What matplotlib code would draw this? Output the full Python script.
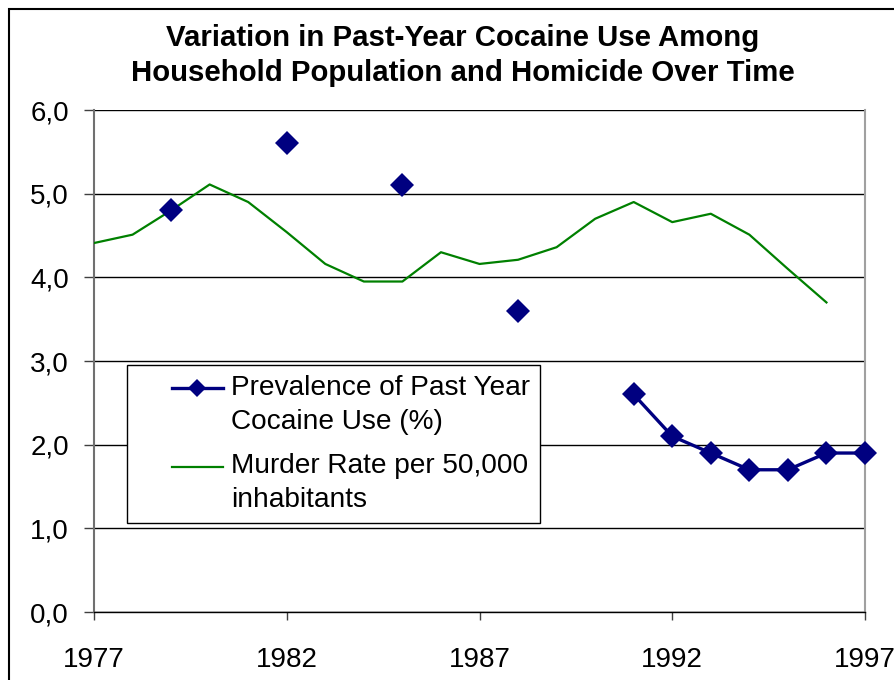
import numpy as np
import matplotlib
matplotlib.use("Agg")
import matplotlib.pyplot as plt
from matplotlib.patches import Rectangle
from matplotlib.legend_handler import HandlerLine2D

plt.rcParams['font.family'] = ['Liberation Sans', 'DejaVu Sans']

years = np.arange(1977, 1998)

# Murder rate per 50,000 inhabitants (no value for 1997)
murder_rate = [4.41, 4.51, 4.80, 5.11, 4.90, 4.54, 4.16, 3.95, 3.95, 4.30,
               4.16, 4.21, 4.36, 4.70, 4.90, 4.66, 4.76, 4.51, 4.10, 3.70,
               np.nan]

# Prevalence of past-year cocaine use (%), surveys not yearly before 1991
cocaine_use = [np.nan, np.nan, 4.8, np.nan, np.nan, 5.6, np.nan, np.nan, 5.1,
               np.nan, np.nan, 3.6, np.nan, np.nan, 2.6, 2.1, 1.9, 1.7, 1.7,
               1.9, 1.9]

x_ticks = [1977, 1982, 1987, 1992, 1997]
y_ticks = [0, 1, 2, 3, 4, 5, 6]
y_tick_labels = ["0,0", "1,0", "2,0", "3,0", "4,0", "5,0", "6,0"]

title_lines = ["Variation in Past-Year Cocaine Use Among",
               "Household Population and Homicide Over Time"]
label_cocaine = "Prevalence of Past Year\nCocaine Use (%)"
label_murder = "Murder Rate per 50,000\ninhabitants"


class FirstLineHandler(HandlerLine2D):
    """Legend handle drawn beside the first line of a two-line label,
    occupying only the right part of the handle box."""

    def __init__(self, x_skip, y_shift, **kw):
        super().__init__(**kw)
        self.x_skip = x_skip
        self.y_shift = y_shift

    def create_artists(self, legend, orig_handle, xdescent, ydescent,
                       width, height, fontsize, trans):
        arts = super().create_artists(legend, orig_handle, xdescent,
                                      ydescent, width, height, fontsize,
                                      trans)
        for a in arts:
            x = np.asarray(a.get_xdata(), dtype=float)
            x0, x1 = x.min(), x.max()
            new_x0 = x0 + self.x_skip * fontsize
            if x1 > x0:
                x = new_x0 + (x - x0) * (x1 - new_x0) / (x1 - x0)
            a.set_xdata(x)
            a.set_ydata(np.asarray(a.get_ydata(), dtype=float)
                        + self.y_shift * fontsize)
        return arts


W, H = 895, 680
fig = plt.figure(figsize=(W / 100, H / 100), dpi=100)

# outer chart frame
fig.patches.append(Rectangle((9 / W, -0.05), 1.2, 1 - 9 / H + 0.05,
                             transform=fig.transFigure, fill=False,
                             edgecolor='black', linewidth=1.5))

ax = fig.add_axes([94 / W, 1 - 612 / H, (865 - 94) / W, (612 - 110) / H])

ax.plot(years, murder_rate, color='#008000', linewidth=1.6,
        label=label_murder, zorder=3)
ax.plot(years, cocaine_use, color='#000080', linewidth=2.4, marker='D',
        markersize=12, markeredgewidth=0, label=label_cocaine,
        clip_on=False, zorder=4)

ax.set_xlim(1977, 1997)
ax.set_ylim(0, 6)
ax.set_xticks(x_ticks)
ax.set_xticklabels([str(y) for y in x_ticks])
ax.set_yticks(y_ticks)
ax.set_yticklabels(y_tick_labels)

ax.yaxis.grid(True, color='black', linewidth=1.0)
ax.set_axisbelow(True)

ax.spines['top'].set_visible(False)
ax.spines['left'].set_color('#707070')
ax.spines['left'].set_linewidth(1.5)
ax.spines['right'].set_color('#a0a0a0')
ax.spines['right'].set_linewidth(1.5)
ax.spines['bottom'].set_color('black')
ax.spines['bottom'].set_linewidth(1.0)

ax.tick_params(axis='y', length=7, width=1, color='#404040', pad=11,
               labelsize=20)
ax.tick_params(axis='x', length=6, width=1, color='#404040', pad=19,
               labelsize=20)

fig.text(463 / W, 1 - 38 / H, title_lines[0], ha='center', va='center',
         fontsize=21.2, fontweight='bold')
fig.text(463 / W, 1 - 73 / H, title_lines[1], ha='center', va='center',
         fontsize=21.2, fontweight='bold')

handles, labels = ax.get_legend_handles_labels()
order = [1, 0]
handler = {h: FirstLineHandler(x_skip=1.26, y_shift=0.6, numpoints=1)
           for h in handles}
leg = ax.legend([handles[i] for i in order], [labels[i] for i in order],
                loc='upper left',
                bbox_to_anchor=((127 - 94) / (865 - 94),
                                (612 - 365) / (612 - 110)),
                fontsize=20.2, frameon=True, fancybox=False,
                edgecolor='black', framealpha=1, borderpad=0.35,
                handlelength=3.06, handletextpad=0.29, labelspacing=0.66,
                borderaxespad=0, markerscale=0.75, handler_map=handler)
for t in leg.get_texts():
    t.set_linespacing(1.4)
leg.get_frame().set_linewidth(1.0)
leg.set_zorder(10)

fig.savefig("out.png", dpi=100)
